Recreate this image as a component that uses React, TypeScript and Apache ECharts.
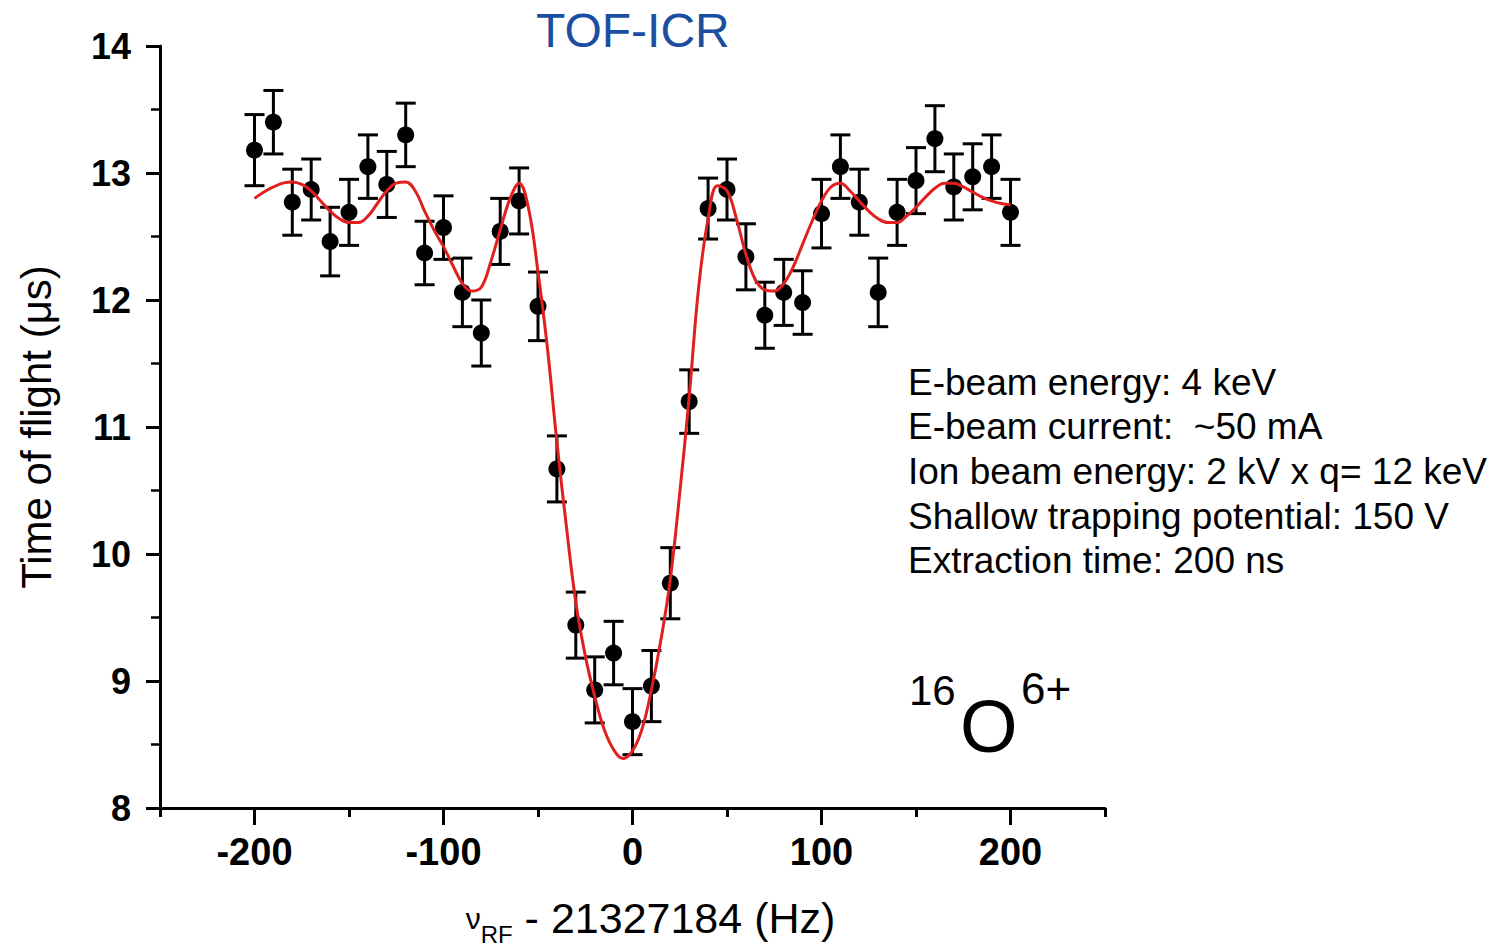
import React, { useEffect, useRef } from 'react';
import * as echarts from 'echarts';

// ---- data ----
const freq = [-200, -190, -180, -170, -160, -150, -140, -130, -120, -110, -100, -90, -80, -70, -60, -50, -40, -30, -20, -10, 0, 10, 20, 30, 40, 50, 60, 70, 80, 90, 100, 110, 120, 130, 140, 150, 160, 170, 180, 190, 200];
const tof = [13.18, 13.40, 12.77, 12.87, 12.46, 12.69, 13.05, 12.91, 13.30, 12.37, 12.57, 12.06, 11.74, 12.54, 12.78, 11.95, 10.67, 9.44, 8.93, 9.22, 8.68, 8.96, 9.77, 11.20, 12.72, 12.87, 12.34, 11.88, 12.06, 11.98, 12.68, 13.05, 12.77, 12.06, 12.69, 12.94, 13.27, 12.89, 12.97, 13.05, 12.69];
const tofErr = [0.28, 0.25, 0.26, 0.24, 0.27, 0.26, 0.25, 0.26, 0.25, 0.25, 0.25, 0.27, 0.26, 0.26, 0.26, 0.27, 0.26, 0.26, 0.26, 0.25, 0.26, 0.28, 0.28, 0.25, 0.24, 0.24, 0.26, 0.26, 0.26, 0.25, 0.27, 0.25, 0.26, 0.27, 0.26, 0.26, 0.26, 0.26, 0.26, 0.25, 0.26];

const fitFreq = [-200, -195, -190, -185, -180, -175, -170, -165, -160, -155, -150, -145, -140, -135, -130, -125, -120, -115, -110, -105, -100, -95, -90, -85, -80, -75, -70, -65, -60, -55, -50, -45, -40, -35, -30, -25, -20, -15, -10, -5, 0, 5, 10, 15, 20, 25, 30, 35, 40, 45, 50, 55, 60, 65, 70, 75, 80, 85, 90, 95, 100, 105, 110, 115, 120, 125, 130, 135, 140, 145, 150, 155, 160, 165, 170, 175, 180, 185, 190, 195, 200];
const fitTof = [12.80, 12.85, 12.89, 12.92, 12.93, 12.91, 12.86, 12.78, 12.70, 12.64, 12.61, 12.61, 12.66, 12.76, 12.86, 12.92, 12.93, 12.86, 12.70, 12.55, 12.42, 12.27, 12.13, 12.07, 12.10, 12.30, 12.55, 12.79, 12.92, 12.72, 12.22, 11.62, 10.88, 10.22, 9.62, 9.20, 8.88, 8.62, 8.46, 8.39, 8.45, 8.62, 8.93, 9.32, 9.80, 10.48, 11.24, 12.10, 12.64, 12.90, 12.86, 12.64, 12.36, 12.16, 12.08, 12.07, 12.13, 12.26, 12.44, 12.62, 12.78, 12.89, 12.92, 12.86, 12.78, 12.70, 12.64, 12.61, 12.61, 12.66, 12.73, 12.81, 12.88, 12.92, 12.92, 12.89, 12.85, 12.81, 12.78, 12.76, 12.75];

const xMajorTicks = [-200, -100, 0, 100, 200];
const xMinorTicks = [-250, -150, -50, 50, 150, 250];

const titleText = 'TOF-ICR';
const yAxisTitle = 'Time of flight (\u03BCs)';
const xAxisNu = '\u03BD';
const xAxisSub = 'RF';
const xAxisMain = ' - 21327184 (Hz)';
const infoLines = [
  'E-beam energy: 4 keV',
  'E-beam current:  ~50 mA',
  'Ion beam energy: 2 kV x q= 12 keV',
  'Shallow trapping potential: 150 V',
  'Extraction time: 200 ns',
];
const isoMass = '16';
const isoElement = 'O';
const isoCharge = '6+';

const FONT = '"Liberation Sans", Arial, Helvetica, sans-serif';

export default function App() {
  const ref = useRef<HTMLDivElement>(null);

  useEffect(() => {
    if (!ref.current) return;
    const chart = echarts.init(ref.current, null, { renderer: 'svg' });

    const pts = freq.map((f, i) => [f, tof[i], tofErr[i]]);
    const fit = fitFreq.map((f, i) => [f, fitTof[i]]);

    const option: any = {
      animation: false,
      backgroundColor: '#ffffff',
      title: {
        text: titleText,
        left: 531,
        top: 1,
        textStyle: { color: '#1a4fa0', fontSize: 48, fontWeight: 'normal', fontFamily: FONT },
      },
      grid: { left: 160, right: 407, top: 46, bottom: 143, containLabel: false, outerBoundsMode: 'none', show: false },
      xAxis: [
        {
          type: 'value',
          min: -250,
          max: 250,
          position: 'bottom',
          axisLine: { show: true, onZero: false, lineStyle: { color: '#000', width: 3 } },
          axisTick: { show: true, customValues: xMajorTicks, length: 17, lineStyle: { color: '#000', width: 3 } },
          axisLabel: {
            show: true,
            customValues: xMajorTicks,
            margin: 25,
            color: '#000',
            fontSize: 38,
            fontWeight: 'bold',
            fontFamily: FONT,
          },
          splitLine: { show: false },
          name: `{nu|${xAxisNu}}{sub|${xAxisSub}}{main|${xAxisMain}}`,
          nameLocation: 'middle',
          nameGap: 82,
          nameTextStyle: {
            color: '#000',
            padding: [0, 0, 0, 36],
            rich: {
              nu: { fontSize: 30, fontFamily: FONT, color: '#000', lineHeight: 56, verticalAlign: 'middle' },
              sub: { fontSize: 24, fontFamily: FONT, color: '#000', lineHeight: 10, verticalAlign: 'bottom' },
              main: { fontSize: 43, fontFamily: FONT, color: '#000', lineHeight: 56, verticalAlign: 'middle' },
            },
          },
        },
        {
          type: 'value',
          min: -250,
          max: 250,
          position: 'top',
          offset: -762,
          axisLine: { show: false },
          axisTick: { show: true, inside: true, customValues: xMinorTicks, length: 9, lineStyle: { color: '#000', width: 3 } },
          axisLabel: { show: false },
          splitLine: { show: false },
        },
      ],
      yAxis: {
        type: 'value',
        min: 8,
        max: 14,
        interval: 1,
        axisLine: { show: true, onZero: false, lineStyle: { color: '#000', width: 3 } },
        axisTick: { show: true, length: 14, lineStyle: { color: '#000', width: 3 } },
        minorTick: { show: true, splitNumber: 2, length: 9, lineStyle: { color: '#000', width: 2.5 } },
        axisLabel: { margin: 29, color: '#000', fontSize: 36, fontWeight: 'bold', fontFamily: FONT },
        splitLine: { show: false },
        name: yAxisTitle,
        nameLocation: 'middle',
        nameGap: 103,
        nameTextStyle: { color: '#000', fontSize: 42, fontFamily: FONT },
      },
      graphic: [
        {
          type: 'text',
          x: 908,
          y: 360,
          style: {
            text: infoLines.join('\n'),
            font: `37px ${FONT}`,
            lineHeight: 44.6,
            fill: '#000',
            verticalAlign: 'top',
          },
        },
        {
          type: 'text',
          x: 909,
          y: 690,
          style: { text: isoMass, font: `42px ${FONT}`, fill: '#000', verticalAlign: 'middle' },
        },
        {
          type: 'text',
          x: 960,
          y: 726,
          style: { text: isoElement, font: `74px ${FONT}`, fill: '#000', verticalAlign: 'middle' },
        },
        {
          type: 'text',
          x: 1021,
          y: 688,
          style: { text: isoCharge, font: `44px ${FONT}`, fill: '#000', verticalAlign: 'middle' },
        },
      ],
      series: [
        {
          type: 'custom',
          name: 'error',
          xAxisIndex: 0,
          yAxisIndex: 0,
          data: pts,
          encode: { x: 0, y: 1 },
          z: 2,
          renderItem: (params: any, api: any) => {
            const x = api.value(0);
            const y = api.value(1);
            const e = api.value(2);
            const top = api.coord([x, y + e]);
            const bot = api.coord([x, y - e]);
            const hw = 10;
            const st = { stroke: '#000', lineWidth: 3 };
            return {
              type: 'group',
              children: [
                { type: 'line', shape: { x1: top[0], y1: top[1], x2: bot[0], y2: bot[1] }, style: st },
                { type: 'line', shape: { x1: top[0] - hw, y1: top[1], x2: top[0] + hw, y2: top[1] }, style: st },
                { type: 'line', shape: { x1: bot[0] - hw, y1: bot[1], x2: bot[0] + hw, y2: bot[1] }, style: st },
              ],
            };
          },
        },
        {
          type: 'scatter',
          name: 'data',
          xAxisIndex: 0,
          data: pts.map((p) => [p[0], p[1]]),
          symbol: 'circle',
          symbolSize: 17,
          itemStyle: { color: '#000', opacity: 1 },
          z: 3,
        },
        {
          type: 'line',
          name: 'fit',
          xAxisIndex: 0,
          data: fit,
          smooth: 0.4,
          showSymbol: false,
          symbol: 'none',
          lineStyle: { color: '#e0201f', width: 3 },
          z: 4,
        },
      ],
    };

    chart.setOption(option);
    return () => chart.dispose();
  }, []);

  return (
    <div
      ref={ref}
      style={{ position: 'absolute', left: 0, top: 0, width: '1512px', height: '951px', background: '#fff' }}
    />
  );
}
